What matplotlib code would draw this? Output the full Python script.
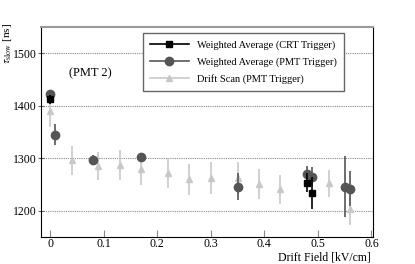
import matplotlib
matplotlib.use("Agg")
import matplotlib.pyplot as plt
from matplotlib.lines import Line2D
import numpy as np

plt.rcParams['font.family'] = ['Liberation Serif', 'DejaVu Serif']
plt.rcParams['mathtext.fontset'] = 'stix'

# Weighted average, CRT trigger
crt_x = [0.0, 0.48, 0.49]
crt_y = [1412, 1253, 1234]
crt_err = [8, 18, 30]

# Weighted average, PMT trigger
pmt_x = [0.0, 0.01, 0.08, 0.17, 0.35, 0.48, 0.49, 0.55, 0.56]
pmt_y = [1422, 1345, 1297, 1302, 1246, 1270, 1265, 1246, 1242]
pmt_err = [6, 20, 10, 8, 25, 15, 18, 58, 33]

# Drift scan, PMT trigger
scan_x = [0.0, 0.04, 0.09, 0.13, 0.17, 0.22, 0.26, 0.30, 0.35, 0.39, 0.43, 0.52, 0.56]
scan_y = [1390, 1296, 1285, 1287, 1279, 1272, 1260, 1262, 1262, 1251, 1241, 1252, 1203]
scan_err = [30, 28, 27, 28, 30, 28, 30, 30, 30, 28, 28, 25, 30]

c_crt, c_pmt, c_scan = 'black', '#555555', '#c8c8c8'

fig = plt.figure(figsize=(4.15, 2.64), dpi=100)
ax = fig.add_axes([41/415, 27/264, 332/415, 210/264])

ax.errorbar(scan_x, scan_y, yerr=scan_err, fmt='^', color=c_scan, ms=5,
            elinewidth=1.2, capsize=0, zorder=2)
ax.errorbar(pmt_x, pmt_y, yerr=pmt_err, fmt='o', color=c_pmt, ms=6,
            elinewidth=1.2, capsize=0, zorder=3)
ax.errorbar(crt_x, crt_y, yerr=crt_err, fmt='s', color=c_crt, ms=5,
            elinewidth=1.2, capsize=0, zorder=4)

ax.set_xlim(-0.017, 0.603)
ax.set_ylim(1150, 1550)
ax.set_xticks([0, 0.1, 0.2, 0.3, 0.4, 0.5, 0.6])
ax.set_xticklabels(['0', '0.1', '0.2', '0.3', '0.4', '0.5', '0.6'])
ax.set_yticks([1200, 1300, 1400, 1500])
ax.yaxis.grid(True, linestyle=(0, (1, 1)), color='#888888', linewidth=0.8)
ax.set_axisbelow(True)

ax.tick_params(axis='x', direction='in', length=5, color='#888888', labelsize=8.5, pad=0.5)
ax.tick_params(axis='y', direction='inout', length=5, color='#666666', labelsize=8.5, pad=0.5)
for s in ['left', 'bottom', 'right']:
    ax.spines[s].set_color('black')
ax.spines['top'].set_color('#999999')
ax.spines['top'].set_linewidth(1.5)

fig.text(371/415, 1 - 260.5/264, 'Drift Field [kV/cm]', fontsize=8.5, ha='right', va='baseline')
fig.text(7/415, 1 - 23/264, r'$\tau_{\rm slow}$ [ns]', fontsize=8, rotation=90,
         ha='center', va='top')

ax.text(0.035, 1462, '(PMT 2)', fontsize=9, va='center')

handles = [
    Line2D([], [], color=c_crt, marker='s', ms=5, lw=1.2),
    Line2D([], [], color=c_pmt, marker='o', ms=6, lw=1.2),
    Line2D([], [], color=c_scan, marker='^', ms=5, lw=1.2),
]
labels = ['Weighted Average (CRT Trigger)', 'Weighted Average (PMT Trigger)',
          'Drift Scan (PMT Trigger)']
leg = ax.legend(handles, labels, loc='upper right', bbox_to_anchor=(0.913, 0.971),
                borderaxespad=0, fontsize=7.5, frameon=True, fancybox=False,
                edgecolor='#666666', handlelength=3.7, handletextpad=0.8,
                borderpad=0.7, labelspacing=0.7, framealpha=1)
leg.get_frame().set_linewidth(1.0)

fig.savefig('out.png', dpi=100)
